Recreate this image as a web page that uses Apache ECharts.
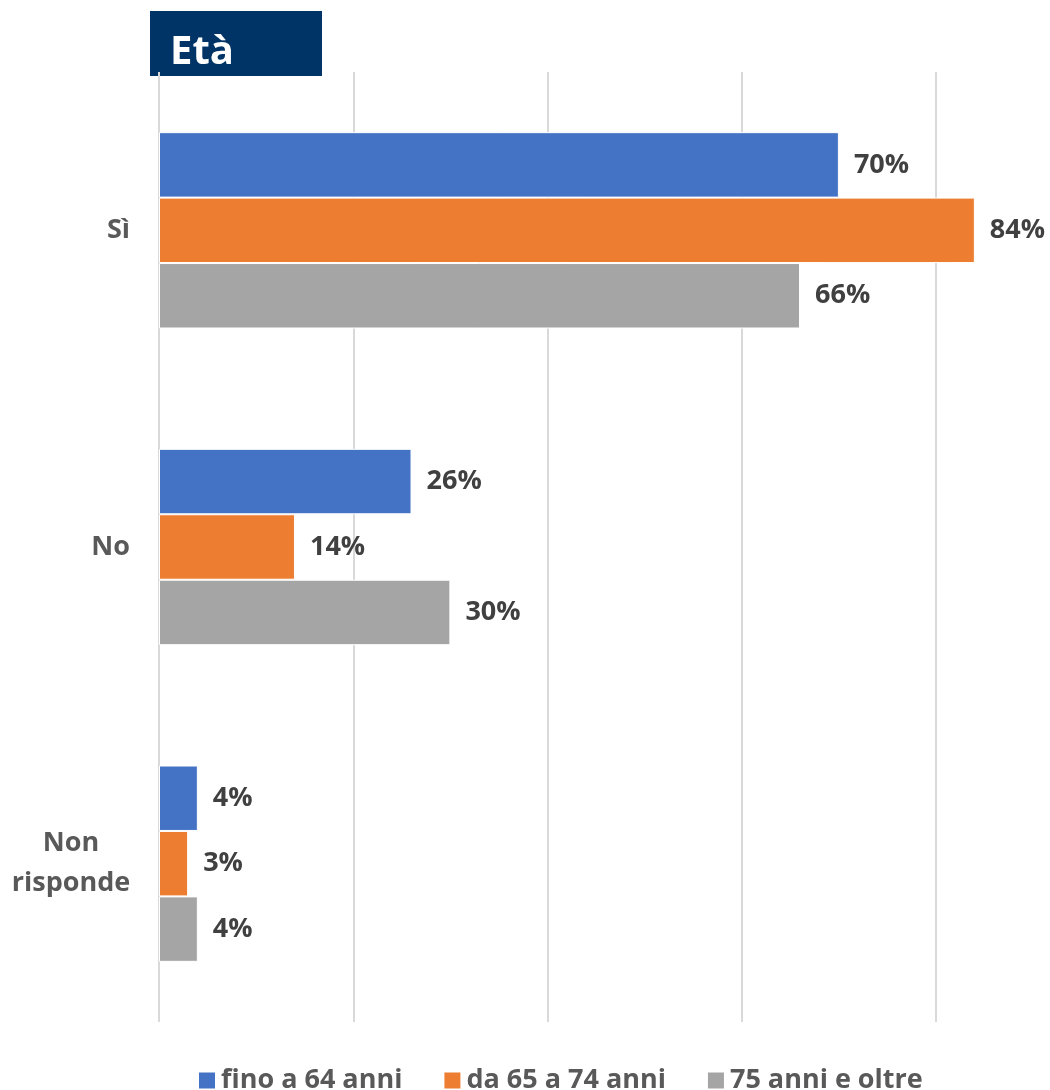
<!DOCTYPE html>
<html>
<head>
<meta charset="utf-8">
<script src="https://cdn.jsdelivr.net/npm/echarts@6/dist/echarts.min.js"></script>
<style>
  html, body { margin: 0; padding: 0; background: #fff; }
  #main { width: 1050px; height: 1090px; }
</style>
</head>
<body>
<div id="main"></div>
<script>
// data
var categories = ['Sì', 'No', 'Non\nrisponde'];
var seriesNames = ['fino a 64 anni', 'da 65 a 74 anni', '75 anni e oltre'];
var fino64 = [70, 26, 4];
var da65a74 = [84, 14, 3];
var oltre75 = [66, 30, 4];
var colors = ['#4472C4', '#ED7D31', '#A5A5A5'];

var font = 'Open Sans';
var labelStyle = {
    show: true,
    position: 'right',
    distance: 15,
    formatter: '{c}%',
    color: '#404040',
    fontSize: 27,
    fontWeight: 'bold',
    fontFamily: font
};

function makeSeries(name, values, color) {
    return {
        name: name,
        type: 'bar',
        data: values,
        clip: false,
        barGap: '0%',
        barCategoryGap: '38%',
        itemStyle: { color: color, borderColor: '#fff', borderWidth: 1 },
        label: labelStyle
    };
}

var chart = echarts.init(document.getElementById('main'));
var option = {
    animation: false,
    color: colors,
    grid: { left: 159, right: 114, top: 72, bottom: 68, containLabel: false },
    xAxis: {
        type: 'value',
        min: 0,
        max: 80,
        interval: 20,
        axisLabel: { show: false },
        axisLine: { show: false },
        axisTick: { show: false },
        splitLine: { show: true, lineStyle: { color: '#d9d9d9', width: 2 } }
    },
    yAxis: {
        type: 'category',
        inverse: true,
        data: categories,
        axisLine: { show: false },
        axisTick: { show: false },
        axisLabel: {
            margin: 29,
            color: '#595959',
            fontSize: 27,
            fontWeight: 'bold',
            fontFamily: font,
            align: 'right',
            lineHeight: 40,
            formatter: function (v) {
                if (v.indexOf('\n') < 0) return v;
                // multi-line label: lines centred on each other
                return v.split('\n').map(function (s) { return '{m|' + s + '}'; }).join('\n');
            },
            rich: {
                m: {
                    width: 118, align: 'center', color: '#595959', fontSize: 27,
                    fontWeight: 'bold', fontFamily: font, lineHeight: 40
                }
            }
        }
    },
    legend: {
        top: 1062,
        left: 192,
        itemWidth: 18,
        itemHeight: 18,
        itemGap: 40,
        icon: 'rect',
        textStyle: { color: '#595959', fontSize: 27, fontWeight: 'bold', fontFamily: font },
        data: seriesNames
    },
    graphic: [{
        type: 'group',
        left: 150,
        top: 11,
        children: [
            { type: 'rect', shape: { x: 0, y: 0, width: 172, height: 65 }, style: { fill: '#003366' } },
            { type: 'text', x: 20, y: 22, style: { text: 'Età', fill: '#fff', font: 'bold 40px "Open Sans"' } }
        ]
    }],
    series: [
        makeSeries(seriesNames[0], fino64, colors[0]),
        makeSeries(seriesNames[1], da65a74, colors[1]),
        makeSeries(seriesNames[2], oltre75, colors[2])
    ]
};
chart.setOption(option);
</script>
</body>
</html>
